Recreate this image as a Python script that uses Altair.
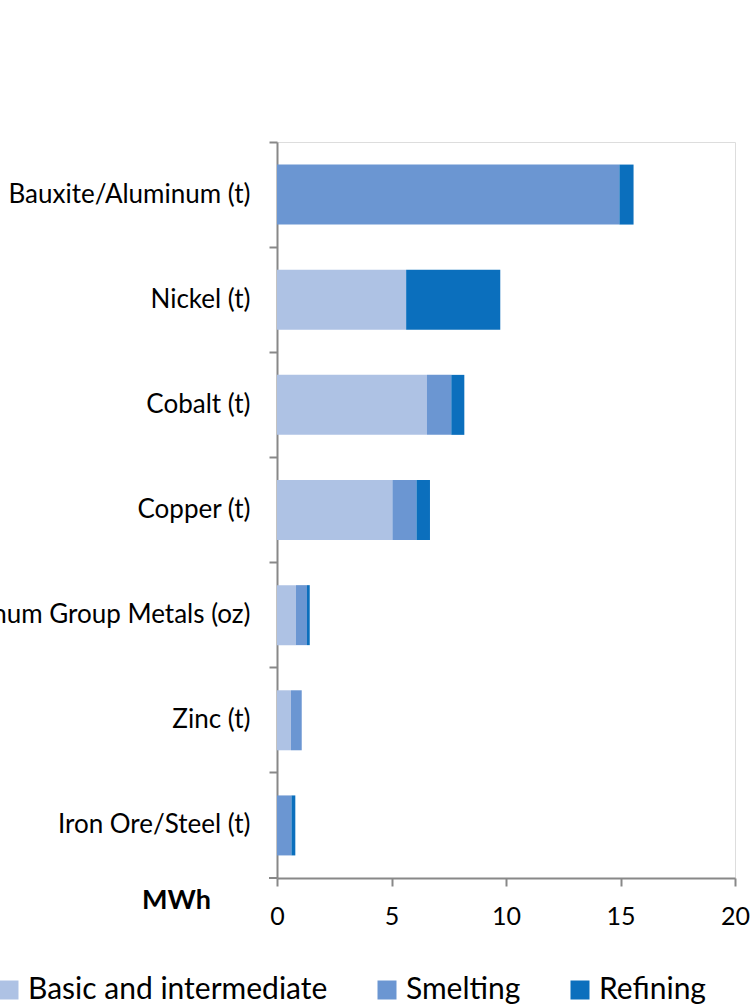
import altair as alt
import pandas as pd

categories = ["Bauxite/Aluminum (t)", "Nickel (t)", "Cobalt (t)", "Copper (t)",
              "Platinum Group Metals (oz)", "Zinc (t)", "Iron Ore/Steel (t)"]
stages = ["Basic and intermediate", "Smelting", "Refining"]
basic = [0.0, 5.64, 6.55, 5.04, 0.83, 0.61, 0.0]
smelting = [14.95, 0.0, 1.06, 1.05, 0.48, 0.47, 0.63]
refining = [0.62, 4.11, 0.57, 0.59, 0.12, 0.0, 0.17]
colors = ["#AEC2E4", "#6B96D2", "#0B6FBD"]
x_ticks = [0, 5, 10, 15, 20]

rows = []
for i, c in enumerate(categories):
    for j, (s, vals) in enumerate(zip(stages, [basic, smelting, refining])):
        rows.append({"cat": c, "stage": s, "order": j, "value": vals[i]})
df = pd.DataFrame(rows)

FONT = "Lato"

bars = alt.Chart(df).mark_bar(size=60).encode(
    y=alt.Y("cat:N", sort=categories, title=None,
            scale=alt.Scale(paddingInner=0, paddingOuter=0),
            axis=alt.Axis(bandPosition=0, ticks=True, tickSize=8, tickWidth=2,
                          tickColor="#888888", domainColor="#888888", domainWidth=2,
                          labelFont=FONT, labelFontSize=26, labelColor="#000000",
                          labelPadding=19, labelLimit=400)),
    x=alt.X("value:Q", stack="zero", title="MWh",
            scale=alt.Scale(domain=[0, 20], nice=False),
            axis=alt.Axis(values=x_ticks, grid=False, tickSize=8, tickWidth=2,
                          tickColor="#888888", domainColor="#888888", domainWidth=2,
                          labelFont=FONT, labelFontSize=25, labelColor="#000000",
                          labelPadding=18, labelFlush=False,
                          titleFont=FONT, titleFontSize=27, titleFontWeight="bold",
                          titleColor="#000000", titleX=-101, titleY=22,
                          titleAlign="center", titleBaseline="middle")),
    color=alt.Color("stage:N", sort=stages, title=None,
                    scale=alt.Scale(domain=stages, range=colors),
                    legend=alt.Legend(orient="none", legendX=-283, legendY=833,
                                      direction="horizontal", symbolType="square",
                                      symbolSize=361, symbolStrokeWidth=0,
                                      labelFont=FONT, labelFontSize=30,
                                      labelColor="#000000", labelOffset=4,
                                      columnPadding=44, labelLimit=400, padding=0)),
    order=alt.Order("order:Q"),
)

bottom_tick = alt.Chart(pd.DataFrame({"v": [0]})).mark_rule(
    color="#888888", strokeWidth=2
).encode(x=alt.value(-8), x2=alt.value(0), y=alt.value(736))

chart = alt.layer(bars, bottom_tick).properties(
    width=458, height=736,
    autosize=alt.AutoSizeParams(type="none"),
    padding={"left": 277, "top": 142, "right": 15, "bottom": 130},
).configure_view(stroke=None).configure(background="#ffffff")

chart.save("out.html", embed_options={"renderer": "svg", "actions": False})
